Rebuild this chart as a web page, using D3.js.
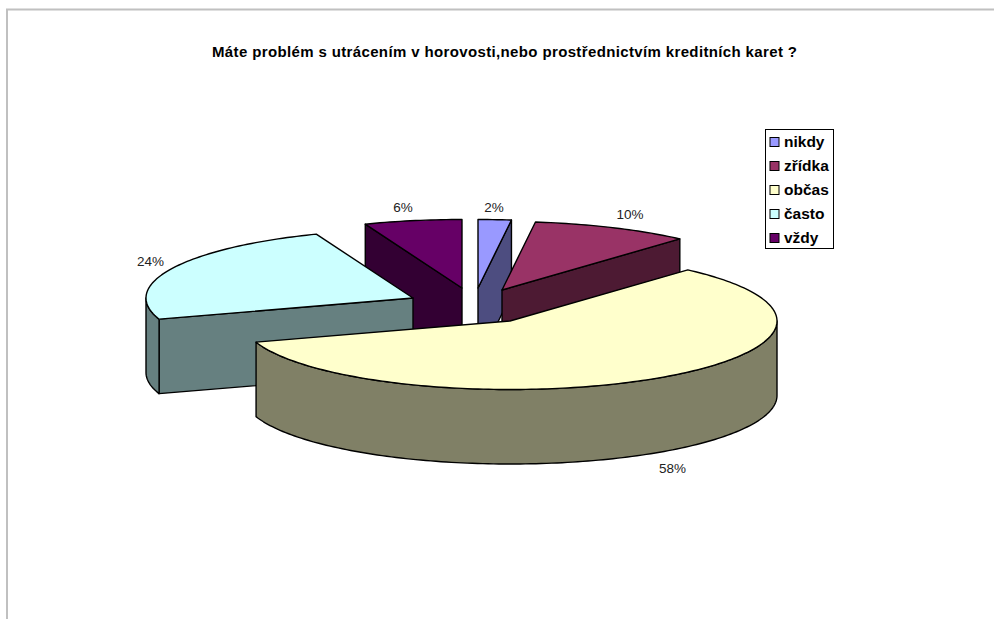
<!DOCTYPE html>
<html><head><meta charset="utf-8">
<script src="https://d3js.org/d3.v7.min.js"></script>
<style>html,body{margin:0;background:#fff}svg{display:block}text{font-family:"Liberation Sans",Arial,sans-serif}</style>
</head><body><svg id="c" width="994" height="619"></svg>
<script>
const titleText = "Máte problém s utrácením v horovosti,nebo prostřednictvím kreditních karet ?";
const categories = ["nikdy","zřídka","občas","často","vždy"];
const values = [2,9.6,58.4,24.1,5.9];
const colors = ["#9999FF","#993366","#FFFFCC","#CCFFFF","#660066"];
const drawOrder = [4,0,1,3,2];
// layout
const W=994,H=619, cx=474, cy=309, rx=267, ry=68.5, depth=74.5;
const explode = [[4,-21],[28,-19],[36,12],[-61,-11],[-12,-21]];
const labelPos = [[494,211.5],[630,219],[672.5,473],[150.5,266],[403,211.5]];

const svg = d3.select("#c");
svg.append("path").attr("d",`M7 ${H}V9.5H${W}`).attr("fill","none").attr("stroke","#c0c0c0").attr("stroke-width",2);
svg.append("text").attr("x",212).attr("y",56.5).attr("textLength",585).attr("lengthAdjust","spacing").attr("font-size",15).attr("font-weight","bold").attr("fill","#000").text(titleText);

const arcs = d3.pie().sort(null).startAngle(0).endAngle(2*Math.PI)(values);
const line = d3.line();
const ell = (a,ox,oy,dz=0)=>[ox+rx*Math.sin(a), oy-ry*Math.cos(a)+dz];
const samples = (a0,a1)=>{const n=Math.max(2,Math.ceil((a1-a0)/0.02));return d3.range(n+1).map(i=>a0+(a1-a0)*i/n);};
const stroke={stroke:"#000","stroke-width":1.4,"stroke-linejoin":"round"};
function draw(d,fill){const p=svg.append("path").attr("d",d).attr("fill",fill);for(const k in stroke)p.attr(k,stroke[k]);return p;}

drawOrder.forEach(i=>{
  const s=arcs[i], ox=cx+explode[i][0], oy=cy+explode[i][1];
  const col=d3.rgb(colors[i]); const dark=d3.rgb(col.r/2,col.g/2,col.b/2).formatHex();
  const cut=(a)=>{const e=ell(a,ox,oy);return line([[ox,oy],e,[e[0],e[1]+depth],[ox,oy+depth]])+"Z";};
  if(Math.sin(s.startAngle)<-1e-6) draw(cut(s.startAngle),dark);
  if(Math.sin(s.endAngle)>1e-6) draw(cut(s.endAngle),dark);
  const a0=Math.max(s.startAngle,Math.PI/2), a1=Math.min(s.endAngle,3*Math.PI/2);
  if(a1>a0){
    const as=samples(a0,a1);
    const top=as.map(a=>ell(a,ox,oy)), bot=as.map(a=>ell(a,ox,oy,depth)).reverse();
    draw(line(top.concat(bot))+"Z",dark);
  }
  const rim=samples(s.startAngle,s.endAngle).map(a=>ell(a,ox,oy));
  draw(line([[ox,oy],...rim])+"Z",colors[i]);
});

arcs.forEach((s,i)=>{
  svg.append("text").attr("x",labelPos[i][0]).attr("y",labelPos[i][1]).attr("text-anchor","middle")
    .attr("font-size",13.5).attr("fill","#222").text(d3.format(".0%")(s.value/100));
});

const lg=svg.append("g");
lg.append("rect").attr("x",765.5).attr("y",129.5).attr("width",68).attr("height",119).attr("fill","#fff").attr("stroke","#000").attr("stroke-width",1);
const ly=d3.scalePoint().domain(categories).range([142,238]);
categories.forEach((c,i)=>{
  lg.append("rect").attr("x",770).attr("y",ly(c)-4.5).attr("width",9).attr("height",9).attr("fill",colors[i]).attr("stroke","#000").attr("stroke-width",1);
  lg.append("text").attr("x",784).attr("y",ly(c)+5).attr("font-size",15.5).attr("font-weight","bold").attr("fill","#000").text(c);
});
</script></body></html>
